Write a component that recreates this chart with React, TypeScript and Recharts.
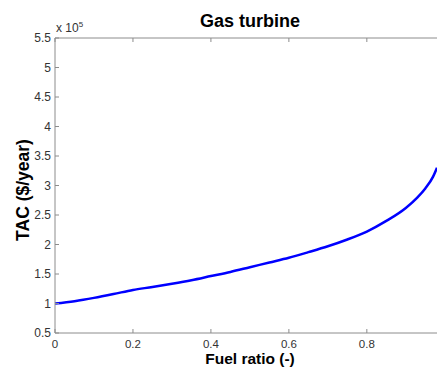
import { Label, Line, LineChart, XAxis, YAxis } from "recharts";

const fuelRatio = [0, 0.05, 0.1, 0.15, 0.2, 0.25, 0.3, 0.35, 0.4, 0.45, 0.5, 0.55, 0.6, 0.65, 0.7, 0.75, 0.8, 0.85, 0.9, 0.93, 0.95, 0.97, 0.98];
const tac = [100000, 104000, 109500, 116000, 123000, 128000, 133500, 139500, 146500, 153500, 161500, 169500, 177500, 187000, 197000, 208500, 222000, 240000, 262000, 280000, 295000, 315000, 330000];
const xTicks = [0, 0.2, 0.4, 0.6, 0.8];
const yTicks = [50000, 100000, 150000, 200000, 250000, 300000, 350000, 400000, 450000, 500000, 550000];

const data = fuelRatio.map((x, i) => ({ x, tac: tac[i] }));

const axisColor = "#8c8c8c";
const font = "Liberation Sans, Arial, sans-serif";
const tickLen = 4;

// MATLAB-style ticks point into the plot, so draw the mark with the label
function BottomTick(props: any) {
  const { x, y, payload } = props;
  const axisY = y - 11;
  return (
    <g>
      <line x1={x} x2={x} y1={axisY} y2={axisY - tickLen} stroke={axisColor} />
      <text x={x} y={axisY + 15} textAnchor="middle" fontSize={11.5} fill="#333" fontFamily={font}>
        {String(payload.value)}
      </text>
    </g>
  );
}

function TopTick(props: any) {
  const { x, y } = props;
  return <line x1={x} x2={x} y1={y} y2={y + tickLen} stroke={axisColor} />;
}

function LeftTick(props: any) {
  const { x, y, payload } = props;
  const axisX = x + 4;
  return (
    <g>
      <line x1={axisX} x2={axisX + tickLen} y1={y} y2={y} stroke={axisColor} />
      <text x={x} y={y} textAnchor="end" dominantBaseline="central" fontSize={12} fill="#333" fontFamily={font}>
        {String(payload.value / 100000)}
      </text>
    </g>
  );
}

export default function App() {
  return (
    <div style={{ position: "absolute", left: 0, top: 0, width: 437, height: 367, background: "#fff", overflow: "hidden" }}>
      <div
        style={{
          position: "absolute",
          left: 0,
          width: 500,
          top: 11,
          textAlign: "center",
          fontFamily: font,
          fontWeight: "bold",
          fontSize: 18,
          color: "#000",
        }}
      >
        Gas turbine
      </div>
      <div style={{ position: "absolute", left: 56, top: 20, fontFamily: font, fontSize: 12, color: "#333" }}>
        x 10<sup style={{ fontSize: 8 }}>5</sup>
      </div>
      <LineChart width={437} height={367} data={data} margin={{ top: 37, right: 0, bottom: 0, left: 0 }}>
        <XAxis
          dataKey="x"
          type="number"
          domain={[0, 0.98]}
          allowDataOverflow
          ticks={xTicks}
          height={34}
          stroke={axisColor}
          tickLine={false}
          tickSize={0}
          tickMargin={11}
          tick={<BottomTick />}
        >
          <Label
            content={() => (
              <text x={250} y={363.5} textAnchor="middle" fontFamily={font} fontWeight="bold" fontSize={15.5} fill="#000">
                Fuel ratio (-)
              </text>
            )}
          />
        </XAxis>
        <XAxis
          xAxisId="top"
          dataKey="x"
          type="number"
          orientation="top"
          domain={[0, 0.98]}
          allowDataOverflow
          ticks={xTicks}
          height={1}
          stroke={axisColor}
          tickLine={false}
          tickSize={0}
          tickMargin={0}
          tick={<TopTick />}
        />
        <YAxis
          type="number"
          domain={[50000, 550000]}
          ticks={yTicks}
          width={55}
          stroke={axisColor}
          tickLine={false}
          tickSize={0}
          tickMargin={4}
          tick={<LeftTick />}
        >
          <Label
            content={() => (
              <text x={23} y={190} transform="rotate(-90 23 190)" textAnchor="middle" dominantBaseline="central" fontFamily={font} fontWeight="bold" fontSize={17.5} fill="#000">
                TAC ($/year)
              </text>
            )}
          />
        </YAxis>
        <Line type="monotone" dataKey="tac" stroke="#0000ff" strokeWidth={2.5} dot={false} isAnimationActive={false} />
        <Line xAxisId="top" dataKey="tac" stroke="none" dot={false} legendType="none" isAnimationActive={false} />
      </LineChart>
    </div>
  );
}
